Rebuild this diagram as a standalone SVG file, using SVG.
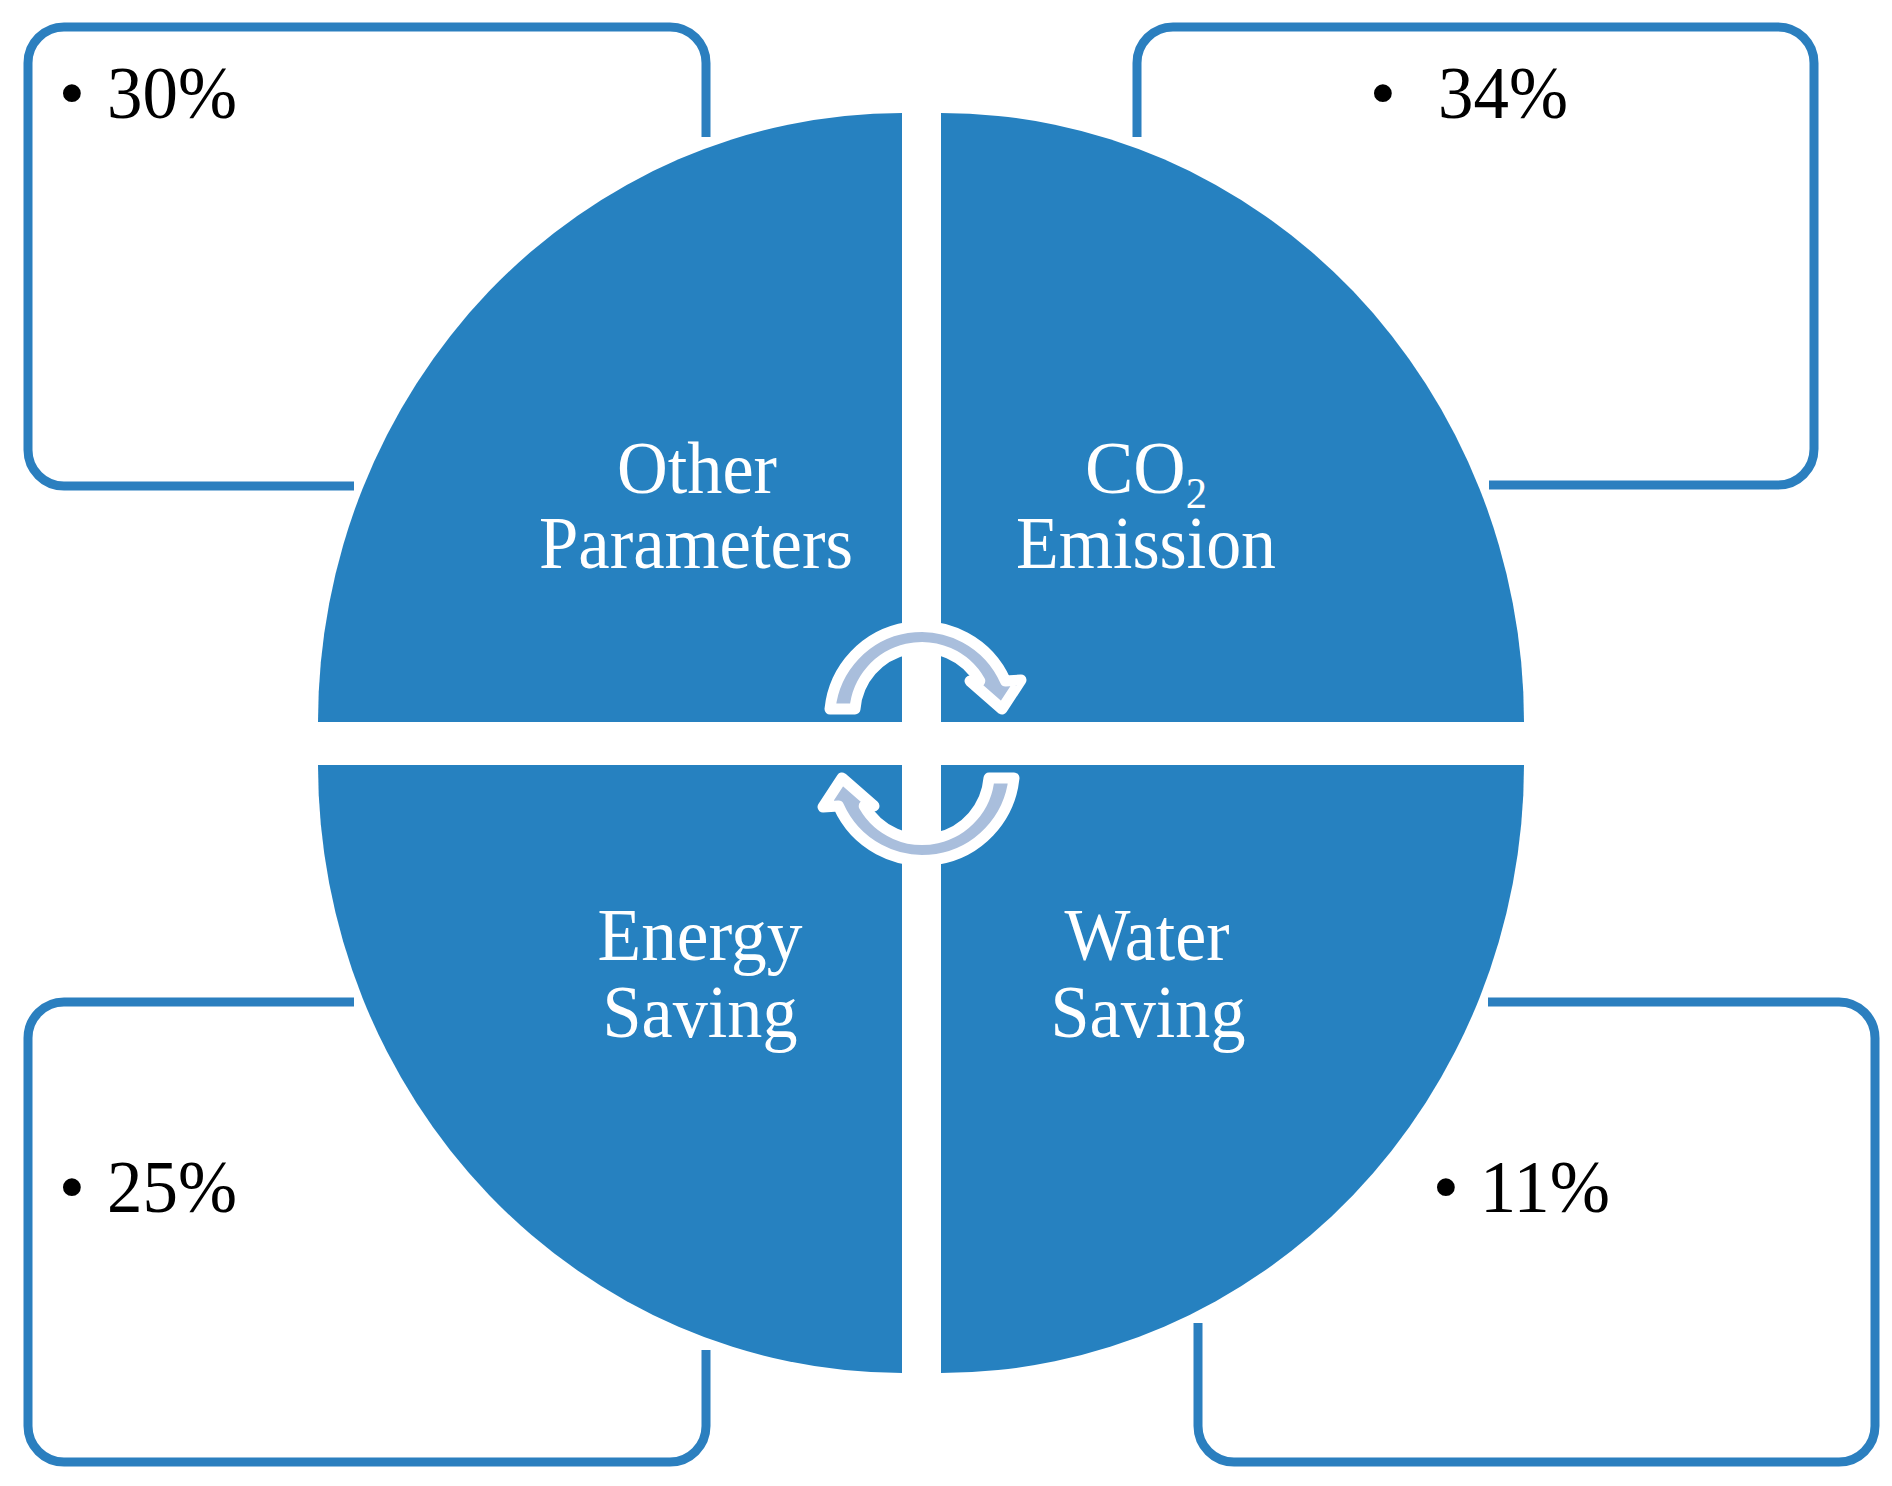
<svg xmlns="http://www.w3.org/2000/svg" width="1892" height="1486" viewBox="0 0 1892 1486">
<style>
.box{fill:none;stroke:#2b7fbf;stroke-width:9;stroke-linecap:butt;stroke-linejoin:round}
.quad{fill:#2681c0;stroke:none}
.lbl{font-family:"Liberation Serif","Times New Roman",serif;font-size:75px;fill:#ffffff;text-anchor:middle}
.pct{font-family:"Liberation Serif","Times New Roman",serif;font-size:75px;fill:#000000}
.bul{font-family:"Liberation Serif","Times New Roman",serif;font-size:75px;fill:#000000;text-anchor:middle}
.arrow{fill:#a9bedc;stroke:#ffffff;stroke-width:11;stroke-linejoin:round}
</style>
<rect width="1892" height="1486" fill="#ffffff"/>

<g id="box-other">
<path class="box" d="M 706 137 L 706 63 A 36 36 0 0 0 670 27 L 64 27 A 36 36 0 0 0 28 63 L 28 450 A 36 36 0 0 0 64 486 L 354 486"/>
<text class="bul" x="72" y="118">•</text>
<text class="pct" x="107" y="118" textLength="130" lengthAdjust="spacingAndGlyphs">30%</text>
</g>
<g id="box-co2">
<path class="box" d="M 1137 137 L 1137 63 A 36 36 0 0 1 1173 27 L 1778 27 A 36 36 0 0 1 1814 63 L 1814 449 A 36 36 0 0 1 1778 485 L 1489 485"/>
<text class="bul" x="1383" y="118">•</text>
<text class="pct" x="1438" y="118" textLength="130" lengthAdjust="spacingAndGlyphs">34%</text>
</g>
<g id="box-energy">
<path class="box" d="M 354 1002 L 64 1002 A 36 36 0 0 0 28 1038 L 28 1426 A 36 36 0 0 0 64 1462 L 670 1462 A 36 36 0 0 0 706 1426 L 706 1350"/>
<text class="bul" x="72" y="1212">•</text>
<text class="pct" x="107" y="1212" textLength="130" lengthAdjust="spacingAndGlyphs">25%</text>
</g>
<g id="box-water">
<path class="box" d="M 1488 1002 L 1839 1002 A 36 36 0 0 1 1875 1038 L 1875 1426 A 36 36 0 0 1 1839 1462 L 1234 1462 A 36 36 0 0 1 1198 1426 L 1198 1323"/>
<text class="bul" x="1446" y="1212">•</text>
<text class="pct" x="1480" y="1212" textLength="130" lengthAdjust="spacingAndGlyphs">11%</text>
</g>

<g id="quad-other">
<path class="quad" d="M 902 722 L 318 722 A 584 609 0 0 1 902 113 Z"/>
<text class="lbl" x="697" y="493" textLength="160" lengthAdjust="spacingAndGlyphs">Other</text>
<text class="lbl" x="696" y="568" textLength="314" lengthAdjust="spacingAndGlyphs">Parameters</text>
</g>
<g id="quad-co2">
<path class="quad" d="M 941 722 L 941 113 A 583 609 0 0 1 1524 722 Z"/>
<text class="lbl" x="1146" y="493" textLength="122" lengthAdjust="spacingAndGlyphs">CO<tspan font-size="44" dy="15">2</tspan></text>
<text class="lbl" x="1146" y="568" textLength="260" lengthAdjust="spacingAndGlyphs">Emission</text>
</g>
<g id="quad-water">
<path class="quad" d="M 941 765 L 1524 765 A 583 608 0 0 1 941 1373 Z"/>
<text class="lbl" x="1147" y="960" textLength="165" lengthAdjust="spacingAndGlyphs">Water</text>
<text class="lbl" x="1148" y="1037" textLength="195" lengthAdjust="spacingAndGlyphs">Saving</text>
</g>
<g id="quad-energy">
<path class="quad" d="M 902 765 L 902 1373 A 584 608 0 0 1 318 765 Z"/>
<text class="lbl" x="700" y="960" textLength="205" lengthAdjust="spacingAndGlyphs">Energy</text>
<text class="lbl" x="700" y="1037" textLength="195" lengthAdjust="spacingAndGlyphs">Saving</text>
</g>

<g id="connectors">
<path id="arrow-top" class="arrow" d="M 855 709 L 830 709 A 92 92 0 0 1 1005.5 681 L 1021 680 L 1002 709 L 970 681 L 979.8 681 A 67 67 0 0 0 855 709 Z"/>
<path id="arrow-bottom" class="arrow" transform="rotate(180 922 743.5)" d="M 855 709 L 830 709 A 92 92 0 0 1 1005.5 681 L 1021 680 L 1002 709 L 970 681 L 979.8 681 A 67 67 0 0 0 855 709 Z"/>
</g>
</svg>
